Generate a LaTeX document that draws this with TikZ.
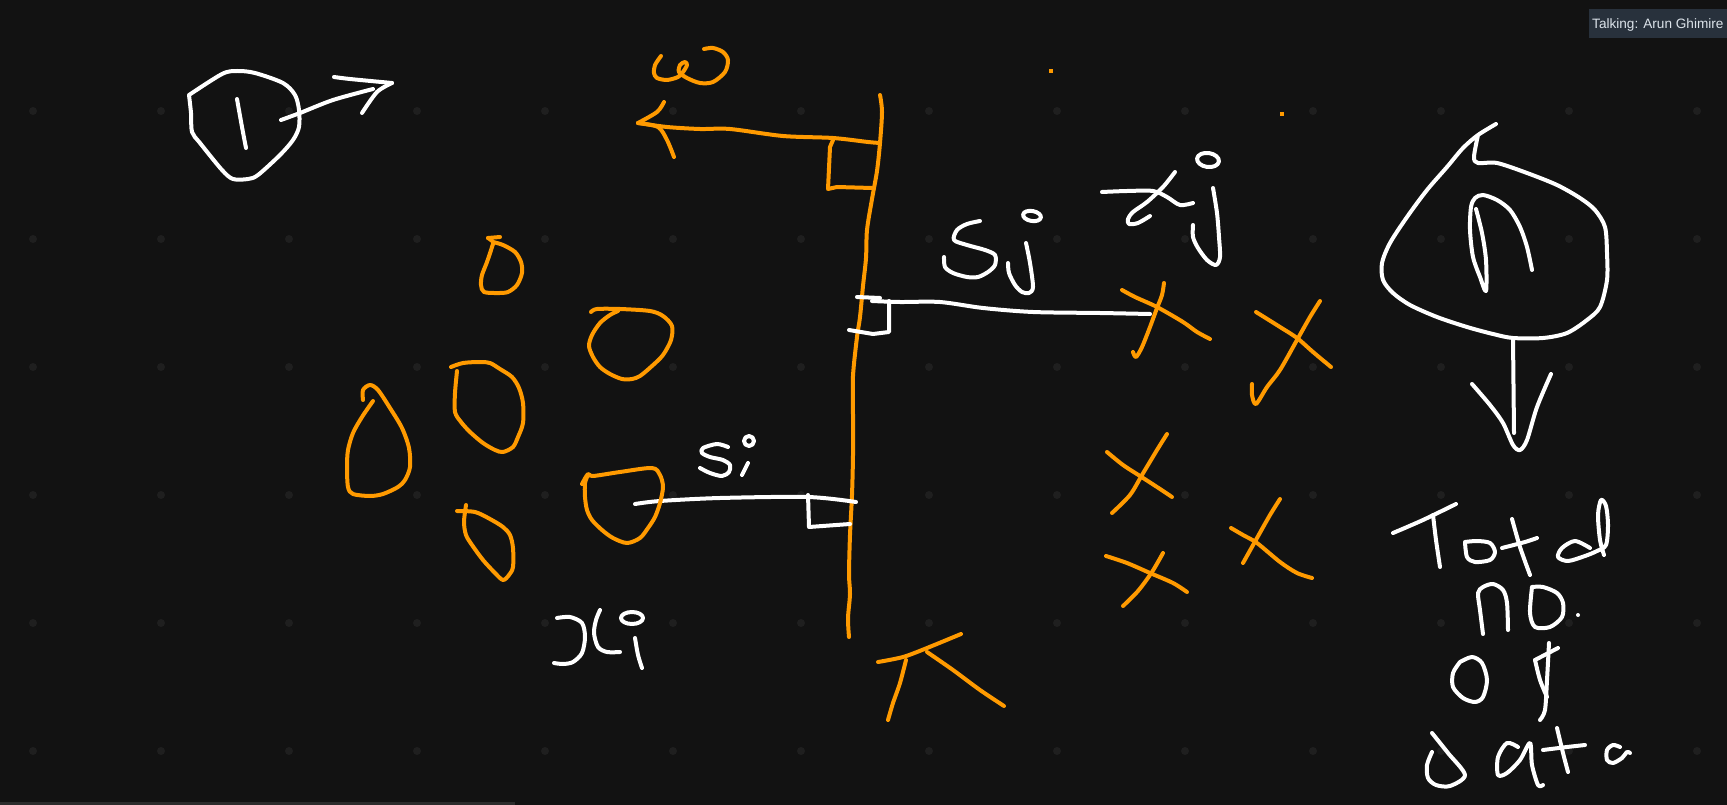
\documentclass[tikz,border=0pt]{standalone}
\usepackage{fontspec}
\newfontfamily\uifont{Liberation Sans}
\definecolor{bg}{HTML}{121212}
\definecolor{gdot}{HTML}{1F1F1F}
\definecolor{org}{HTML}{FF9A00}
\definecolor{tagbg}{HTML}{28313C}
\definecolor{tagfg}{HTML}{DCE3EA}
\definecolor{barc}{HTML}{2C2C2C}
\begin{document}
\begin{tikzpicture}[x=1pt,y=-1pt,
  ink/.style={line width=4pt, line cap=round, line join=round},
  w/.style={ink, draw=white},
  o/.style={ink, draw=org},
  sm/.style={smooth, tension=0.5}]
\fill[bg] (0,0) rectangle (1727,805);
\useasboundingbox (0,0) rectangle (1727,805);
% grid dots
\foreach \i in {0,...,13} \foreach \j in {0,...,5} \fill[gdot] (33+128*\i,111+128*\j) circle (4pt);
% bottom bar
\fill[barc] (0,802) rectangle (515,805);
% tag
\fill[tagbg] (1589,9) rectangle (1727,38);
\node[anchor=base west, text=tagfg, font=\uifont\fontsize{13.6}{16}\selectfont, inner sep=0] (tag) at (1592,28.5) {Talking: Arun Ghimire};
% stray orange dots
\fill[org] (1049,69) rectangle (1053,73);
\fill[org] (1280,112) rectangle (1284,116);

% ---- circled 1 with arrow
\draw[w] plot[sm] coordinates {(189,95)(222,74)(237,71)(255,73)(283,83)(295,95)(299,110)(299,127)(293,140)(280,155)(258,175)(248,179)(233,179)(222,170)(200,143)(192,132)(191,113)(189,95)};
\draw[w] plot[sm] coordinates {(237,99)(242,127)(246,148)};
\draw[w] plot[sm] coordinates {(281,120)(300,113)(333,100)(373,89)};
\draw[w] plot[sm] coordinates {(334,77)(350,79)(392,83)};
\draw[w] plot[sm] coordinates {(392,83)(377,92)(362,113)};

% ---- omega and w arrow
\draw[o] plot[sm] coordinates {(661,56)(655,65)(654,73)(657,78)(667,80)(678,77)(683,72)(687,65)(685,62)(680,65)(679,72)(687,78)(700,83)(713,82)(725,72)(728,60)(723,52)(713,48)(704,49)};
\draw[o] plot[sm] coordinates {(638,123)(667,127)(700,129)(730,129)(783,136)(833,138)(868,142)(880,143)};
\draw[o] plot[sm] coordinates {(664,102)(657,112)(638,123)};
\draw[o] plot[sm] coordinates {(638,123)(658,127)(667,140)(674,157)};
\draw[o] (833,140) -- (830,147) -- (828,189) -- (837,187) -- (872,188);

% ---- hyperplane
\draw[o] plot[sm] coordinates {(880,95)(882,112)(880,143)(877,171)(872,199)(867,230)(866,258)(863,286)(860,317)(857,337)(853,376)(853,416)(853,455)(852,495)(850,535)(849,574)(850,594)(848,618)(849,637)};

% ---- sj distance
\draw[w] (857,297) -- (880,298);
\draw[w] plot[sm] coordinates {(872,301)(900,302)(940,302)(983,308)(1033,312)(1100,313)(1150,314)};
\draw[w] (889,301) -- (889,332) -- (873,334) -- (849,330);
% sj label
\draw[w] plot[sm] coordinates {(980,221)(967,224)(957,230)(954,240)(967,245)(985,250)(995,255)(995,265)(988,272)(978,277)(967,277)(953,273)(945,267)(944,257)};
\draw[w] plot[sm] coordinates {(1026,243)(1030,263)(1033,287)(1029,293)(1022,292)(1015,285)(1009,273)(1008,263)};
\draw[w, rotate around={-10:(1032,216)}] (1032,216) ellipse (9pt and 5pt);
% xj label
\draw[w] plot[sm] coordinates {(1102,192)(1127,191)(1153,191)(1167,197)(1180,205)(1193,203)};
\draw[w] plot[sm] coordinates {(1175,172)(1163,187)(1147,202)(1133,212)(1128,219)(1129,224)(1138,223)(1150,216)};
\draw[w] plot[sm] coordinates {(1213,188)(1217,213)(1219,237)(1220,257)(1216,265)(1207,260)(1198,248)(1193,237)(1193,225)};
\draw[w, rotate around={-8:(1208,160)}] (1208,160) ellipse (11pt and 7pt);

% ---- si distance
\draw[w] plot[sm] coordinates {(635,504)(660,501)(720,498)(808,497)(856,502)};
\draw[w] (808,495) -- (809,527) -- (850,524);
\draw[w] plot[sm] coordinates {(728,447)(717,444)(703,448)(702,453)(710,457)(723,460)(730,465)(729,472)(722,476)(710,473)(700,468)};
\draw[w] (748,463) -- (742,475);
\draw[w] (749,441) circle (5pt);

% ---- xi label
\draw[w] plot[sm] coordinates {(557,618)(570,617)(582,623)(585,637)(582,653)(573,662)(563,664)(554,663)};
\draw[w] plot[sm] coordinates {(600,610)(596,620)(594,633)(598,647)(607,652)(620,652)};
\draw[w] plot[sm] coordinates {(635,638)(638,655)(642,668)};
\draw[w] (632,618) ellipse (11pt and 6pt);

% ---- K (bias) mark
\draw[o] plot[sm] coordinates {(878,662)(903,657)(927,648)(961,634)};
\draw[o] plot[sm] coordinates {(906,660)(900,683)(893,703)(888,720)};
\draw[o] plot[sm] coordinates {(927,652)(953,670)(980,690)(1004,706)};

% ---- orange circles (class -1)
\draw[o] plot[sm] coordinates {(488,238)(493,242)(492,247)(487,262)(482,275)(481,285)(484,292)(497,293)(508,292)(517,285)(522,273)(521,262)(515,252)(503,245)(493,242)};
\draw[o] (488,238) -- (500,237);
\draw[o] plot[sm] coordinates {(591,312)(597,309)(620,309)(650,311)(663,316)(672,326)(671,340)(663,355)(652,366)(640,376)(632,379)(622,379)(610,374)(600,367)(593,357)(589,346)(592,335)(600,323)(610,315)(618,311)};
\draw[o] plot[sm] coordinates {(451,367)(463,363)(480,362)(490,363)(500,369)(512,377)(519,388)(523,403)(523,423)(518,437)(513,447)(503,452)(495,450)(483,443)(470,432)(461,422)(455,412)(455,393)(457,371)};
\draw[o] plot[sm] coordinates {(363,400)(363,390)(370,385)(378,390)(390,408)(402,428)(409,448)(410,467)(405,480)(398,487)(383,494)(370,496)(353,494)(348,487)(347,467)(348,450)(353,433)(362,417)(373,401)};
\draw[o] plot[sm] coordinates {(457,511)(475,512)(490,519)(503,527)(510,535)(513,548)(513,567)(509,575)(503,580)(495,573)(483,560)(472,545)(466,535)(464,522)(466,505)};
\draw[o] plot[sm] coordinates {(582,484)(588,474)(593,476)(620,472)(652,468)(660,475)(663,487)(660,503)(655,517)(648,528)(640,538)(627,543)(613,538)(602,530)(592,520)(587,510)(585,497)(585,483)(588,475)};

% ---- orange crosses (class +1)
\draw[o] plot[sm] coordinates {(1122,290)(1135,297)(1157,307)(1183,322)(1197,332)(1210,339)};
\draw[o] plot[sm] coordinates {(1164,283)(1162,295)(1157,308)(1150,327)(1142,347)(1136,357)(1133,352)};
\draw[o] plot[sm] coordinates {(1256,312)(1280,327)(1297,338)(1313,352)(1331,367)};
\draw[o] plot[sm] coordinates {(1320,301)(1310,317)(1297,340)(1280,370)(1267,387)(1256,404)(1252,395)(1252,384)};
\draw[o] plot[sm] coordinates {(1107,452)(1123,465)(1140,476)(1157,487)(1172,497)};
\draw[o] plot[sm] coordinates {(1167,434)(1157,450)(1142,475)(1130,495)(1112,513)};
\draw[o] plot[sm] coordinates {(1231,528)(1243,535)(1257,543)(1280,562)(1297,573)(1312,578)};
\draw[o] plot[sm] coordinates {(1280,499)(1270,515)(1257,538)(1243,563)};
\draw[o] plot[sm] coordinates {(1106,556)(1127,563)(1150,573)(1173,583)(1187,592)};
\draw[o] plot[sm] coordinates {(1163,553)(1152,572)(1138,591)(1123,606)};

% ---- circled n with down arrow
\draw[w] plot[sm] coordinates {(1496,124)(1478,135)(1463,148)(1447,167)(1427,190)(1407,217)(1390,243)(1382,263)(1383,280)(1393,293)(1410,305)(1437,317)(1467,327)(1493,334)(1513,338)(1543,338)(1567,333)(1587,320)(1600,307)(1607,280)(1607,253)(1605,227)(1595,210)(1580,198)(1557,185)(1527,173)(1497,163)(1478,163)(1474,157)(1478,135)};
\draw[w] plot[sm] coordinates {(1476,209)(1482,233)(1486,260)(1486,291)(1480,277)(1473,257)(1470,230)(1471,207)(1475,198)(1483,195)(1497,200)(1510,210)(1520,227)(1527,247)(1532,270)};
\draw[w] (1513,338) -- (1514,433);
\draw[w] plot[sm] coordinates {(1472,384)(1490,405)(1503,423)(1513,445)(1520,450)(1527,440)(1537,407)(1551,374)};

% ---- Total no. of data
\draw[w] plot[sm] coordinates {(1393,533)(1423,520)(1456,504)};
\draw[w] plot[sm] coordinates {(1433,515)(1436,540)(1440,567)};
\draw[w] plot[sm] coordinates {(1465,542)(1467,557)(1475,562)(1490,560)(1495,552)(1490,543)(1477,541)(1465,542)};
\draw[w] plot[sm] coordinates {(1512,519)(1520,547)(1530,575)};
\draw[w] plot[sm] coordinates {(1502,548)(1525,542)(1537,538)};
\draw[w] plot[sm] coordinates {(1590,548)(1575,541)(1562,548)(1558,557)(1568,561)(1585,556)(1597,551)(1606,545)(1608,525)(1606,506)(1601,500)(1598,515)(1600,540)(1604,555)};
\draw[w] plot[sm] coordinates {(1483,634)(1480,610)(1478,593)(1483,587)(1493,584)(1503,590)(1507,603)(1508,630)};
\draw[w] plot[sm] coordinates {(1532,587)(1530,613)(1535,627)(1550,627)(1562,617)(1563,603)(1557,593)(1543,587)(1532,587)};
\fill[white] (1578,615) circle (2pt);
\draw[w] plot[sm] coordinates {(1460,662)(1453,673)(1453,687)(1463,698)(1475,702)(1483,697)(1487,680)(1482,663)(1472,657)(1460,662)};
\draw[w] (1535,660) -- (1558,648);
\draw[w] plot[sm] coordinates {(1549,643)(1547,680)(1545,710)(1540,720)};
\draw[w] plot[sm] coordinates {(1535,660)(1540,680)(1547,697)};
\draw[w] plot[sm] coordinates {(1432,752)(1427,765)(1428,778)(1436,785)(1450,786)(1465,775)(1448,753)(1432,733)};
\draw[w] plot[sm] coordinates {(1518,747)(1507,743)(1498,757)(1498,775)(1507,773)(1520,760)(1530,743)(1532,765)(1538,785)(1543,785)};
\draw[w] plot[sm] coordinates {(1557,728)(1563,753)(1568,772)};
\draw[w] plot[sm] coordinates {(1543,750)(1567,747)(1585,745)};
\draw[w] plot[sm] coordinates {(1620,747)(1613,745)(1607,750)(1607,760)(1613,763)(1622,758)(1627,752)(1630,753)};
\end{tikzpicture}
\end{document}
